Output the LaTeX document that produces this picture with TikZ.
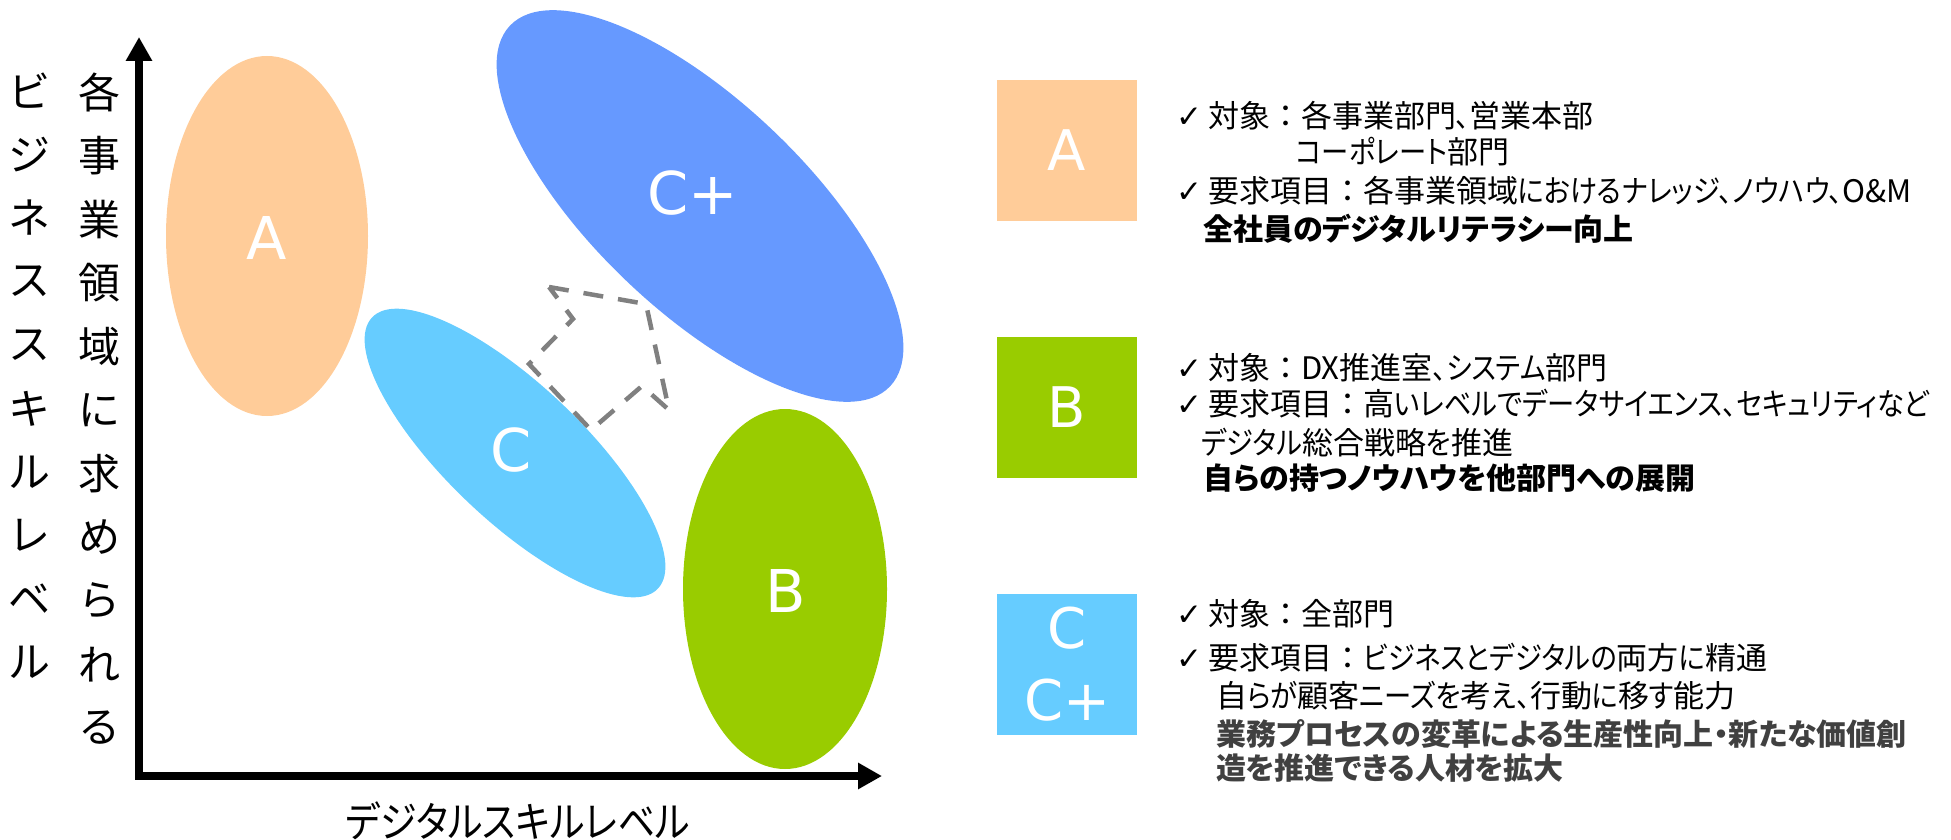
\documentclass[tikz,border=0pt]{standalone}
\usepackage{fontspec}
\setmainfont{DejaVu Sans}
\newfontfamily\jp{Noto Sans CJK JP}
\newfontfamily\jpp[RawFeature=+palt]{Noto Sans CJK JP}
\newfontfamily\jpk[RawFeature=+palt,FakeStretch=0.88]{Noto Sans CJK JP}
\newfontfamily\dv{DejaVu Sans}
\usetikzlibrary{shapes.geometric,arrows.meta}
\definecolor{colA}{HTML}{FFCC99}
\definecolor{colB}{HTML}{99CC00}
\definecolor{colC}{HTML}{66CCFF}
\definecolor{colCp}{HTML}{6699FF}
\definecolor{dashgray}{HTML}{808080}
\definecolor{darktxt}{HTML}{404040}
\newcommand\mychk{{\dv\fontsize{31}{31}\selectfont ✓}\hspace{6pt}}
\newcommand\knr[1]{{\jpk #1}}
\begin{document}
\begin{tikzpicture}[x=1pt,y=-1pt,
  ell/.style={ellipse, inner sep=0pt, outer sep=0pt, draw=none},
  elab/.style={text=white, font=\dv\fontsize{59}{59}\selectfont, inner sep=0pt},
  lbox/.style={rectangle, minimum width=140pt, minimum height=141pt, inner sep=0pt, outer sep=0pt, text=white, font=\dv\fontsize{56}{72}\selectfont, align=center},
  ltxt/.style={anchor=base west, inner sep=0pt, font=\jp\fontsize{31}{36}\selectfont},
  lbold/.style={anchor=base west, inner sep=0pt, font=\jpp\bfseries\fontsize{30}{36}\selectfont},
  vlab/.style={inner sep=0pt, font=\jp\fontsize{42}{42}\selectfont},
  axis/.style={line width=8pt, line join=miter, {Triangle[length=24pt,width=25pt]}-{Triangle[length=24pt,width=25pt]}},
  dasharrow/.style={draw=dashgray, line width=4.5pt, dash pattern=on 20pt off 15pt, line join=miter},
]
\useasboundingbox (0,0) rectangle (1951,840);

% ellipses
\node[ell, fill=colA, minimum width=202pt, minimum height=360pt] (eA) at (267,236) {};
\node[ell, fill=colCp, minimum width=524pt, minimum height=210pt, rotate=-43.5] (eCp) at (700,206) {};
\node[ell, fill=colC, minimum width=394pt, minimum height=136pt, rotate=-43.5] (eC) at (515,453) {};
\node[ell, fill=colB, minimum width=204pt, minimum height=360pt] (eB) at (785,589) {};

\node[elab] (lA) at (267,238) {A};
\node[elab] (lCp) at (693,193) {C+};
\node[elab] (lC) at (511,450) {C};
\node[elab] (lB) at (786,591) {B};

% dashed block arrow
\coordinate (pA) at (549,287);
\coordinate (pB) at (646,304);
\coordinate (pC) at (669,410);
\coordinate (pD) at (642,386);
\coordinate (pE) at (591,430);
\coordinate (pF) at (529,364);
\coordinate (pG) at (573,319);
\draw[dasharrow] (pA) -- (pB) -- (pC) -- (pD) -- (pE) -- (pF) -- (pG) -- cycle;

% axes
\coordinate (O) at (139,776);
\coordinate (Ytop) at (139,37);
\coordinate (Xend) at (882,776);
\draw[axis] (Ytop) -- (O) -- (Xend);

% axis labels
\foreach [count=\i] \c in {ビ,ジ,ネ,ス,ス,キ,ル,レ,ベ,ル}
  \node[vlab] (bl\i) at (30,{91+63.5*(\i-1)}) {\c};
\foreach [count=\i] \c in {各,事,業,領,域,に,求,め,ら,れ,る}
  \node[vlab] (al\i) at (99,{92+63.6*(\i-1)}) {\c};
\node[inner sep=0pt, font=\jp\fontsize{42}{42}\selectfont] (xlab) at (518,821) {\knr{デジタルスキルレベル}};

% legend boxes
\node[lbox, fill=colA] (bA) at (1067,150.5) {A};
\node[lbox, fill=colB] (bB) at (1067,407) {B};
\node[lbox, fill=colC] (bC) at (1067,664.5) {C\\C+};

% legend texts A
\node[ltxt] (tA1) at (1176,128) {\mychk 対象：各事業部門\knr{、}営業本部};
\node[ltxt] (tA2) at (1296,164) {\knr{コーポレート}部門};
\node[ltxt] (tA3) at (1176,202) {\mychk 要求項目：各事業領域\knr{におけるナレッジ、ノウハウ、}O\&M};
\node[lbold] (tA4) at (1203,240) {全社員のデジタルリテラシー向上};

% legend texts B
\node[ltxt] (tB1) at (1176,379) {\mychk 対象：DX推進室\knr{、システム}部門};
\node[ltxt] (tB2) at (1176,415) {\mychk 要求項目：高\knr{いレベルでデータサイエンス、セキュリティなど}};
\node[ltxt] (tB3) at (1201,454) {\knr{デジタル}総合戦略\knr{を}推進};
\node[lbold] (tB4) at (1203,489) {自らの持つノウハウを他部門への展開};

% legend texts C
\node[ltxt] (tC1) at (1176,625) {\mychk 対象：全部門};
\node[ltxt] (tC2) at (1176,669) {\mychk 要求項目：\knr{ビジネスとデジタルの}両方\knr{に}精通};
\node[ltxt] (tC3) at (1216,707) {自\knr{らが}顧客\knr{ニーズを}考\knr{え、}行動\knr{に}移\knr{す}能力};
\node[lbold, text=darktxt] (tC4) at (1216,745) {業務プロセスの変革による生産性向上・新たな価値創};
\node[lbold, text=darktxt] (tC5) at (1216,779) {造を推進できる人材を拡大};
\end{tikzpicture}
\end{document}
